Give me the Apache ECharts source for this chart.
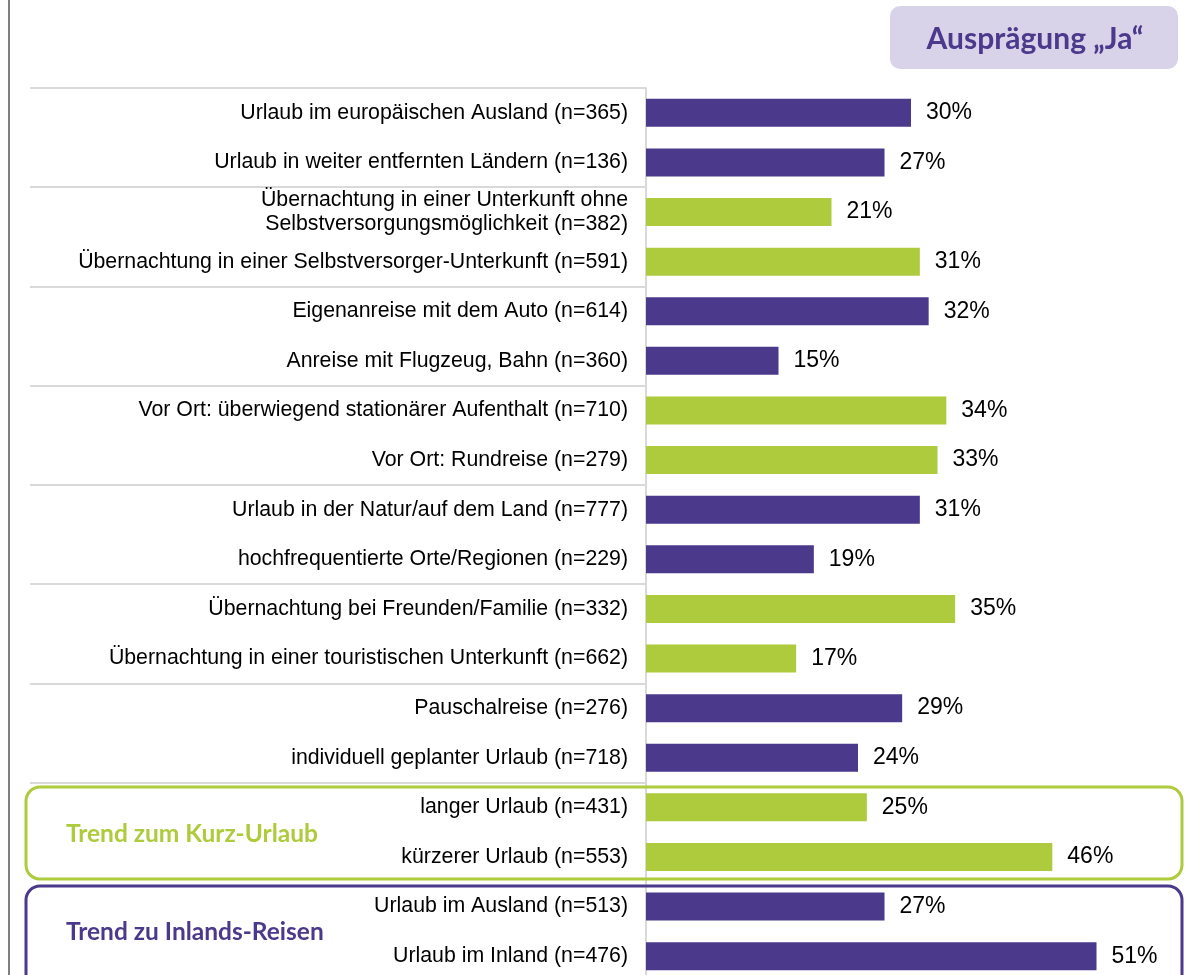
<!DOCTYPE html>
<html>
<head>
<meta charset="utf-8">
<script src="https://cdn.jsdelivr.net/npm/echarts@6/dist/echarts.min.js"></script>
<style>
  html, body { margin: 0; padding: 0; background: #fff; }
  #chart { width: 1188px; height: 975px; }
</style>
</head>
<body>
<div id="chart"></div>
<script>
var categories = [
    'Urlaub im europäischen Ausland (n=365)',
    'Urlaub in weiter entfernten Ländern (n=136)',
    'Übernachtung in einer Unterkunft ohne\nSelbstversorgungsmöglichkeit (n=382)',
    'Übernachtung in einer Selbstversorger-Unterkunft (n=591)',
    'Eigenanreise mit dem Auto (n=614)',
    'Anreise mit Flugzeug, Bahn (n=360)',
    'Vor Ort: überwiegend stationärer Aufenthalt (n=710)',
    'Vor Ort: Rundreise (n=279)',
    'Urlaub in der Natur/auf dem Land (n=777)',
    'hochfrequentierte Orte/Regionen (n=229)',
    'Übernachtung bei Freunden/Familie (n=332)',
    'Übernachtung in einer touristischen Unterkunft (n=662)',
    'Pauschalreise (n=276)',
    'individuell geplanter Urlaub (n=718)',
    'langer Urlaub (n=431)',
    'kürzerer Urlaub (n=553)',
    'Urlaub im Ausland (n=513)',
    'Urlaub im Inland (n=476)'
];
var values = [30, 27, 21, 31, 32, 15, 34, 33, 31, 19, 35, 17, 29, 24, 25, 46, 27, 51];
var headerText = 'Ausprägung „Ja“';
var groupTitles = ['Trend zum Kurz-Urlaub', 'Trend zu Inlands-Reisen'];

var PURPLE = '#4b398c';
var GREEN = '#adcb3c';
var GREY = '#d9d9d9';

var chart = echarts.init(document.getElementById('chart'));

// pairs of rows alternate purple / green
var barData = values.map(function (v, i) {
    return {
        value: v,
        itemStyle: { color: Math.floor(i / 2) % 2 === 0 ? PURPLE : GREEN }
    };
});

var option = {
    animation: false,
    grid: { left: 646, top: 88, width: 530, height: 893, outerBoundsMode: 'none' },
    xAxis: {
        type: 'value',
        min: 0,
        max: 60,
        show: false
    },
    yAxis: {
        type: 'category',
        inverse: true,
        data: categories,
        axisLine: { show: true, lineStyle: { color: GREY, width: 2 } },
        axisTick: {
            show: true,
            length: 616,
            lineStyle: { color: GREY, width: 2 },
            interval: function (i) { return i % 2 === 0 && i < 16; }
        },
        axisLabel: {
            interval: 0,
            margin: 18,
            color: '#000',
            fontFamily: 'Liberation Sans, Arial, sans-serif',
            fontSize: 21.3,
            lineHeight: 24,
            align: 'right'
        }
    },
    series: [{
        type: 'bar',
        data: barData,
        barWidth: 28,
        label: {
            show: true,
            position: 'right',
            distance: 15,
            formatter: '{c}%',
            color: '#000',
            fontFamily: 'Liberation Sans, Arial, sans-serif',
            fontSize: 23
        }
    }],
    graphic: [
        // left border
        { type: 'line', shape: { x1: 9, y1: 0, x2: 9, y2: 975 }, style: { stroke: '#7f7f7f', lineWidth: 2 } },
        // header box
        {
            type: 'rect',
            shape: { x: 890, y: 6, width: 288, height: 63, r: 10 },
            style: { fill: '#d9d3ea' }
        },
        {
            type: 'text',
            x: 1035, y: 39,
            style: {
                text: headerText,
                fill: PURPLE,
                font: 'bold 30px Lato, "Open Sans", sans-serif',
                align: 'center',
                verticalAlign: 'middle'
            }
        },
        // group boxes
        {
            type: 'rect', z: 10,
            shape: { x: 26, y: 787, width: 1156, height: 92, r: 14 },
            style: { fill: 'none', stroke: GREEN, lineWidth: 3 }
        },
        {
            type: 'rect', z: 10,
            shape: { x: 26, y: 886, width: 1156, height: 110, r: 14 },
            style: { fill: 'none', stroke: PURPLE, lineWidth: 3 }
        },
        {
            type: 'text', z: 10,
            x: 66, y: 834,
            style: {
                text: groupTitles[0],
                fill: GREEN,
                font: 'bold 24.5px Lato, "Open Sans", sans-serif',
                verticalAlign: 'middle'
            }
        },
        {
            type: 'text', z: 10,
            x: 66, y: 932,
            style: {
                text: groupTitles[1],
                fill: PURPLE,
                font: 'bold 24.5px Lato, "Open Sans", sans-serif',
                verticalAlign: 'middle'
            }
        }
    ]
};

chart.setOption(option);
</script>
</body>
</html>
